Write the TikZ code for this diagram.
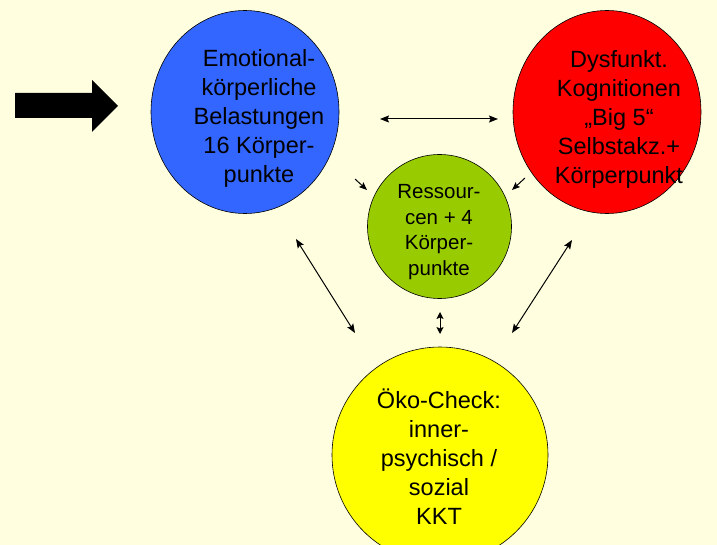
\documentclass[tikz,border=0pt]{standalone}
\usepackage{fontspec}
\setmainfont{Liberation Sans}
\usetikzlibrary{arrows.meta}
\definecolor{bgcream}{HTML}{FFFFE0}
\definecolor{cblue}{HTML}{3366FF}
\definecolor{cred}{HTML}{FF0000}
\definecolor{cgreen}{HTML}{99CC00}
\definecolor{cyellow}{HTML}{FFFF00}
\begin{document}
\begin{tikzpicture}[x=1pt,y=-1pt,
  bubble/.style={draw=black, line width=0.6pt},
  bigtext/.style={align=center, font=\fontsize{23.5}{29}\selectfont, inner sep=0pt},
  smalltext/.style={align=center, font=\fontsize{20.5}{25.5}\selectfont, inner sep=0pt},
  tip/.style={Stealth[length=9pt,width=7pt,inset=1.5pt]},
  link/.style={line width=1pt, {Stealth[length=9pt,width=7pt,inset=1.5pt]}-{Stealth[length=9pt,width=7pt,inset=1.5pt]}},
  shortlink/.style={line width=1pt, {Stealth[length=7pt,width=7pt,inset=1.5pt]}-{Stealth[length=7pt,width=7pt,inset=1.5pt]}},
  onelink/.style={line width=1pt, -{Stealth[length=8pt,width=6.5pt,inset=1.5pt]}}]
  % canvas
  \fill[bgcream] (0,0) rectangle (717,545);
  \useasboundingbox (0,0) rectangle (717,545);

  % circles
  \filldraw[bubble, fill=cblue] (245,112) ellipse [x radius=94, y radius=101.5];
  \filldraw[bubble, fill=cred] (607,112) ellipse [x radius=94, y radius=101.5];
  \filldraw[bubble, fill=cgreen] (439.5,226.5) circle [radius=72];
  \filldraw[bubble, fill=cyellow] (440,455) circle [radius=108];

  % labels
  \node[bigtext] (tblue) at (259,118) {Emotional-\\körperliche\\Belastungen\\16 Körper-\\punkte};
  \node[bigtext] (tred) at (619,119) {Dysfunkt.\\Kognitionen\\„Big 5“\\Selbstakz.+\\Körperpunkt};
  \node[smalltext] (tgreen) at (439,232) {Ressour-\\cen + 4\\Körper-\\punkte};
  \node[bigtext] (tyellow) at (439,457) {Öko-Check:\\inner-\\psychisch /\\sozial\\KKT};

  % connector end points
  \coordinate (br1) at (380,119);
  \coordinate (br2) at (498,119);
  \coordinate (bg1) at (355,179);
  \coordinate (bg2) at (367,190);
  \coordinate (rg1) at (525,178);
  \coordinate (rg2) at (512,190);
  \coordinate (by1) at (296,239);
  \coordinate (by2) at (355,333);
  \coordinate (gy1) at (440,312);
  \coordinate (gy2) at (440,334);
  \coordinate (ry1) at (572,240);
  \coordinate (ry2) at (512,333);

  % connectors
  \draw[link] (br1) -- (br2);
  \draw[onelink] (bg1) -- (bg2);
  \draw[onelink] (rg1) -- (rg2);
  \draw[link] (by1) -- (by2);
  \draw[shortlink] (gy1) -- (gy2);
  \draw[link] (ry1) -- (ry2);

  % block arrow at the left
  \fill[black] (15,93) -- (92,93) -- (92,80) -- (118,106) -- (92,132) -- (92,118) -- (15,118) -- cycle;
\end{tikzpicture}
\end{document}
